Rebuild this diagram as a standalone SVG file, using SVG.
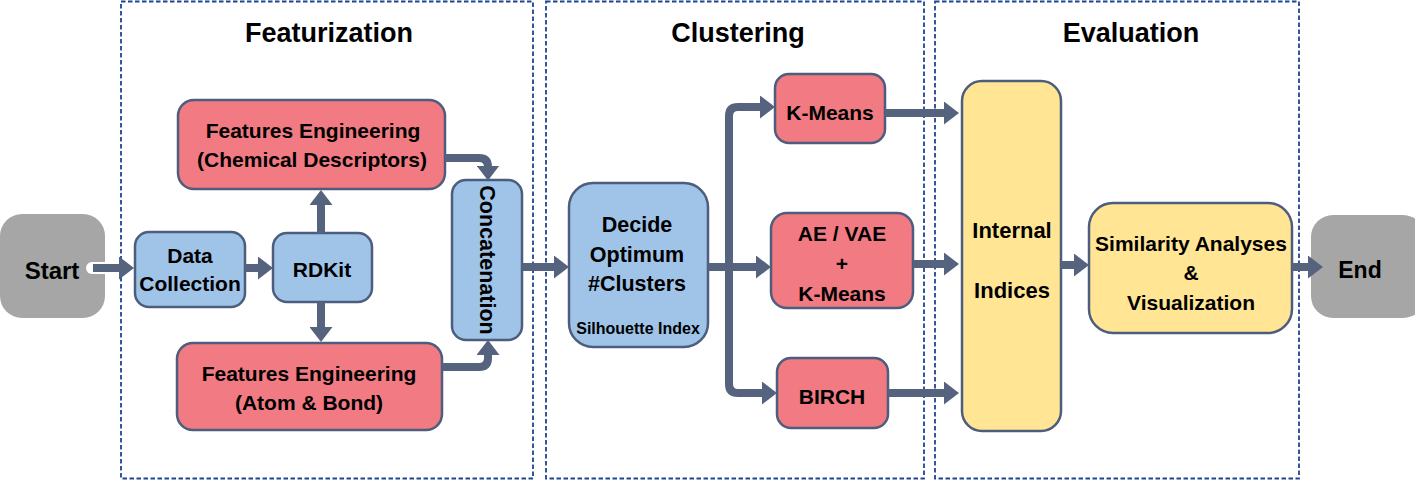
<svg xmlns="http://www.w3.org/2000/svg" width="1415" height="482" viewBox="0 0 1415 482">
<defs>
<marker id="ah" viewBox="0 0 15 23" markerWidth="15" markerHeight="23" refX="2" refY="11.5" orient="auto" markerUnits="userSpaceOnUse">
<path d="M0,0 L15,11.5 L0,23 Z" fill="#55637E"/>
</marker>
<style>
.frame{fill:none;stroke:#1F4592;stroke-width:1.8;stroke-dasharray:4.5 2.5}
.title{font-family:"Liberation Sans",Arial,sans-serif;font-weight:bold;font-size:27px;fill:#000;text-anchor:middle}
.t{font-family:"Liberation Sans",Arial,sans-serif;font-weight:bold;font-size:21px;fill:#000;text-anchor:middle;dominant-baseline:central}
.red{fill:#F27A82;stroke:#4D5D7D;stroke-width:2.5}
.blue{fill:#9FC4E8;stroke:#4D5D7D;stroke-width:2.5}
.yel{fill:#FFE594;stroke:#4D5D7D;stroke-width:2.5}
.gray{fill:#A6A6A6}
.c{fill:none;stroke:#55637E;stroke-width:8;marker-end:url(#ah)}
</style>
</defs>
<rect width="1415" height="482" fill="#fff"/>
<g id="frames">
<rect class="frame" x="121" y="1.5" width="412" height="477"/>
<rect class="frame" x="546" y="1.5" width="378" height="477"/>
<rect class="frame" x="935" y="1.5" width="364" height="477"/>
<text class="title" x="329" y="42">Featurization</text>
<text class="title" x="738" y="42">Clustering</text>
<text class="title" x="1131" y="42">Evaluation</text>
</g>
<g id="start"><rect class="gray" x="0" y="214" width="105" height="104" rx="22"/><text class="t" x="52" y="270" style="font-size:24px">Start</text></g>
<g id="data-collection"><rect class="blue" x="135" y="232" width="110" height="75" rx="14"/><text class="t" x="190" y="255">Data</text><text class="t" x="190" y="283">Collection</text></g>
<g id="rdkit"><rect class="blue" x="273" y="233" width="99" height="69" rx="14"/><text class="t" x="322" y="269">RDKit</text></g>
<g id="fe-chem"><rect class="red" x="178" y="100" width="267" height="89" rx="16"/><text class="t" x="313" y="130">Features Engineering</text><text class="t" x="312" y="159">(Chemical Descriptors)</text></g>
<g id="fe-atom"><rect class="red" x="177" y="343" width="265" height="87" rx="16"/><text class="t" x="309" y="373">Features Engineering</text><text class="t" x="309" y="402">(Atom &amp; Bond)</text></g>
<g id="concatenation"><rect class="blue" x="452" y="180" width="70" height="160" rx="14"/><text class="t" x="0" y="0" transform="translate(487,260) rotate(90)" style="font-size:21.5px">Concatenation</text></g>
<g id="decide"><rect class="blue" x="569" y="183" width="139" height="164" rx="24"/><text class="t" x="637" y="225" style="font-size:21.5px">Decide</text><text class="t" x="637" y="255" style="font-size:21.5px">Optimum</text><text class="t" x="637" y="284" style="font-size:21.5px">#Clusters</text><text class="t" x="638" y="328" style="font-size:16px">Silhouette Index</text></g>
<g id="kmeans"><rect class="red" x="775" y="74" width="110" height="69" rx="14"/><text class="t" x="830" y="112">K-Means</text></g>
<g id="ae-vae"><rect class="red" x="771" y="213" width="142" height="95" rx="16"/><text class="t" x="842" y="233">AE / VAE</text><text class="t" x="842" y="263">+</text><text class="t" x="842" y="293">K-Means</text></g>
<g id="birch"><rect class="red" x="777" y="358" width="111" height="70" rx="14"/><text class="t" x="832" y="396">BIRCH</text></g>
<g id="internal-indices"><rect class="yel" x="962" y="81" width="99" height="350" rx="20"/><text class="t" x="1012" y="230" style="font-size:22px">Internal</text><text class="t" x="1012" y="290" style="font-size:22px">Indices</text></g>
<g id="similarity"><rect class="yel" x="1089" y="203" width="203" height="130" rx="24"/><text class="t" x="1191" y="243">Similarity Analyses</text><text class="t" x="1191" y="272">&amp;</text><text class="t" x="1191" y="302">Visualization</text></g>
<g id="end"><rect class="gray" x="1311" y="215" width="114" height="103" rx="22"/><text class="t" x="1360" y="270" style="font-size:23px">End</text></g>
<g id="connectors">
<path d="M92,268 H106" fill="none" stroke="#fff" stroke-width="12" stroke-linecap="round"/>
<path class="c" d="M93,268 H121"/>
<path class="c" d="M245,268 H260"/>
<path class="c" d="M321,233 V203"/>
<path class="c" d="M321,302 V329"/>
<path class="c" d="M445,158 H479 Q488,158 488,167 V167.5"/>
<path class="c" d="M442,367 H479 Q488,367 488,358 V353"/>
<path class="c" d="M522,267 H556"/>
<path class="c" d="M708,267 H758"/>
<path class="c" d="M729,267 V116 Q729,107 738,107 H762"/>
<path class="c" d="M729,267 V384 Q729,393 738,393 H764"/>
<path class="c" d="M885,113 H946"/>
<path class="c" d="M913,264 H946"/>
<path class="c" d="M888,393 H946"/>
<path class="c" d="M1061,265 H1076"/>
<path class="c" d="M1292,267 H1310"/>
</g>
</svg>
